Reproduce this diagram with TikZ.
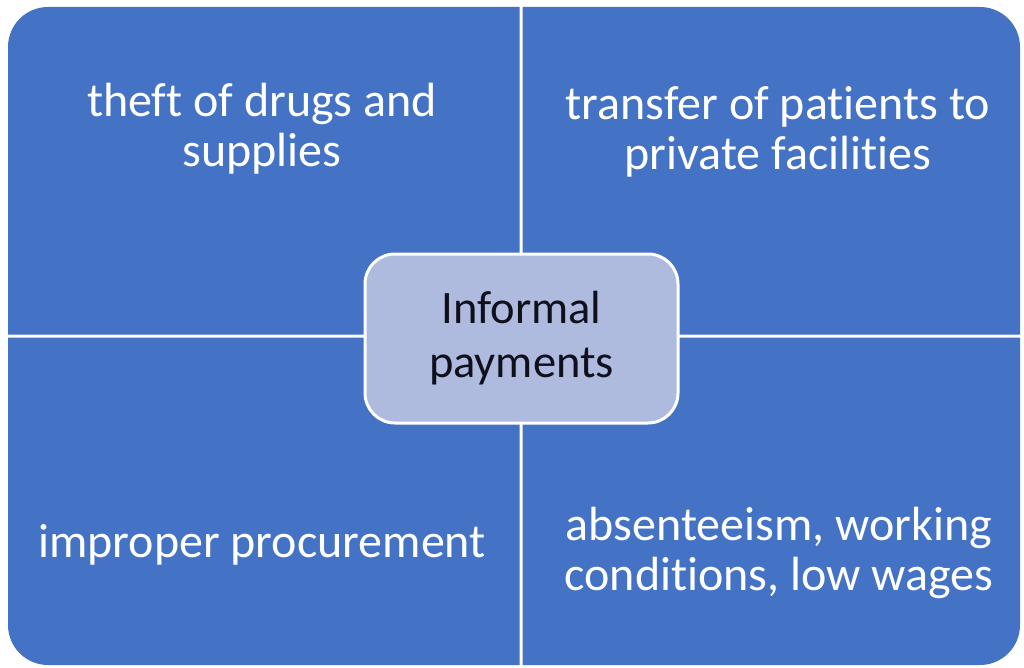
\documentclass[tikz,border=0pt]{standalone}
\usepackage{fontspec}
\setmainfont{Carlito}[Ligatures=NoCommon]
\definecolor{quadblue}{HTML}{4472C4}
\definecolor{hubfill}{HTML}{AEBBDE}
\definecolor{hubtext}{HTML}{10101C}
\begin{document}
\begin{tikzpicture}[x=1pt,y=-1pt,
  quad/.style={fill=quadblue},
  qtext/.style={text=white, font=\fontsize{48}{50}\selectfont, align=center, anchor=base, inner sep=0pt},
  hubbox/.style={rectangle, rounded corners=30, fill=hubfill, draw=white, line width=3,
    minimum width=313, minimum height=169, text=hubtext, align=center,
    font=\fontsize{46.5}{54}\selectfont}]
\useasboundingbox (0,0) rectangle (1024,668);
\fill[white] (0,0) rectangle (1024,668);
% quadrants
\fill[quad] (8,334.5) [rounded corners=40] -- (8,7) [sharp corners] -- (519.5,7) -- (519.5,334.5) -- cycle;
\fill[quad] (522.5,334.5) -- (522.5,7) [rounded corners=40] -- (1020,7) [sharp corners] -- (1020,334.5) -- cycle;
\fill[quad] (519.5,337.5) -- (519.5,665) [rounded corners=40] -- (8,665) [sharp corners] -- (8,337.5) -- cycle;
\fill[quad] (522.5,337.5) -- (1020,337.5) [rounded corners=40] -- (1020,665) [sharp corners] -- (522.5,665) -- cycle;
% quadrant texts (anchor = baseline of last line)
\node[qtext] (tl) at (262,167) {theft of drugs and\\supplies};
\node[qtext] (tr) at (778,170) {transfer of patients to\\private facilities};
\node[qtext] (bl) at (262,557) {improper procurement};
\node[qtext] (br) at (779,590) {absenteeism, working\\conditions, low wages};
% hub
\node[hubbox] (hub) at (521.5,338.5) {Informal\\payments};
\end{tikzpicture}
\end{document}
